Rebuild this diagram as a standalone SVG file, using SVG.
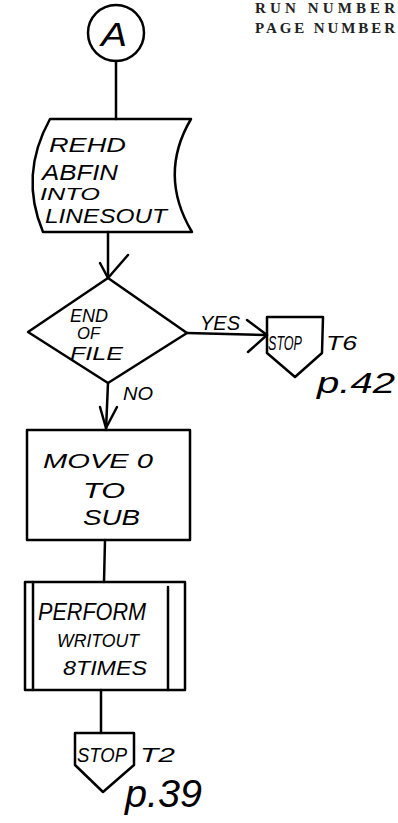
<svg xmlns="http://www.w3.org/2000/svg" width="398" height="823" viewBox="0 0 398 823">
<defs>
<style>
.s{fill:none;stroke:#000;stroke-width:2.5;stroke-linejoin:round;stroke-linecap:round}
.h{font-family:"Liberation Sans",Arial,sans-serif;fill:#000;font-style:italic}
.hd{font-family:"Liberation Serif","Times New Roman",serif;font-size:15px;font-weight:bold;fill:#222}
</style>
</defs>
<rect width="398" height="823" fill="#fff"/>
<text class="hd" x="255" y="13" textLength="140" lengthAdjust="spacing">RUN NUMBER</text>
<text class="hd" x="255" y="33" textLength="140" lengthAdjust="spacing">PAGE NUMBER</text>

<g id="connectors">
<line class="s" x1="116" y1="61" x2="116" y2="119"/>
<line class="s" x1="108" y1="232" x2="108" y2="278"/>
<path class="s" d="M100,263 L108,278 L128,255"/>
<line class="s" x1="187" y1="333" x2="266" y2="335"/>
<path class="s" d="M247,320 L267,335 L248,352"/>
<line class="s" x1="108" y1="383" x2="106" y2="430"/>
<path class="s" d="M100,407 L106,428 L117,407"/>
<line class="s" x1="105" y1="540" x2="104" y2="582"/>
<line class="s" x1="101" y1="690" x2="101" y2="733"/>
</g>

<g id="connA">
<circle class="s" cx="116" cy="33" r="28"/>
<text class="h" x="101" y="46" font-size="34" textLength="26" lengthAdjust="spacingAndGlyphs">A</text>
</g>

<g id="read">
<path class="s" d="M50,119 L191,119 Q158,175 192,232 L43,232 Q19,175 50,119 Z"/>
<text class="h" x="49" y="152" font-size="21" textLength="77" lengthAdjust="spacingAndGlyphs">REHD</text>
<text class="h" x="42" y="180" font-size="22" textLength="76" lengthAdjust="spacingAndGlyphs">ABFIN</text>
<text class="h" x="40" y="200" font-size="17" textLength="60" lengthAdjust="spacingAndGlyphs">INTO</text>
<text class="h" x="45" y="223" font-size="21" textLength="122" lengthAdjust="spacingAndGlyphs">LINESOUT</text>
</g>

<g id="eof">
<path class="s" d="M108,278 L187,333 L108,383 L28,332 Z"/>
<text class="h" x="70" y="322" font-size="19" textLength="38" lengthAdjust="spacingAndGlyphs">END</text>
<text class="h" x="77" y="339" font-size="16" textLength="23" lengthAdjust="spacingAndGlyphs">OF</text>
<text class="h" x="70" y="360" font-size="19" textLength="53" lengthAdjust="spacingAndGlyphs">FILE</text>
<text class="h" x="200" y="330" font-size="20" textLength="40" lengthAdjust="spacingAndGlyphs">YES</text>
<text class="h" x="123" y="400" font-size="19" textLength="30" lengthAdjust="spacingAndGlyphs">NO</text>
</g>

<g id="stopT6">
<path class="s" d="M267,317 L323,317 L322,353 L295,377 L267,353 Z"/>
<text class="h" x="268" y="350" font-size="20" textLength="34" lengthAdjust="spacingAndGlyphs">STOP</text>
<text class="h" x="326" y="350" font-size="20" textLength="31" lengthAdjust="spacingAndGlyphs">T6</text>
<text class="h" x="317" y="393" font-size="30" textLength="78" lengthAdjust="spacingAndGlyphs">p.42</text>
</g>

<g id="move">
<rect class="s" x="27" y="430" width="163" height="110"/>
<text class="h" x="43" y="468" font-size="21" textLength="110" lengthAdjust="spacingAndGlyphs">MOVE 0</text>
<text class="h" x="83" y="498" font-size="22" textLength="42" lengthAdjust="spacingAndGlyphs">TO</text>
<text class="h" x="83" y="525" font-size="22" textLength="57" lengthAdjust="spacingAndGlyphs">SUB</text>
</g>

<g id="perform">
<rect class="s" x="25" y="582" width="160" height="108"/>
<line class="s" x1="33" y1="582" x2="33" y2="690"/>
<line class="s" x1="168" y1="587" x2="168" y2="690"/>
<text class="h" x="38" y="620" font-size="24" textLength="108" lengthAdjust="spacingAndGlyphs">PERFORM</text>
<text class="h" x="57" y="647" font-size="18" textLength="82" lengthAdjust="spacingAndGlyphs">WRITOUT</text>
<text class="h" x="63" y="675" font-size="21" textLength="84" lengthAdjust="spacingAndGlyphs">8TIMES</text>
</g>

<g id="stopT2">
<path class="s" d="M75,733 L134,733 L134,765 L103,792 L75,765 Z"/>
<text class="h" x="77" y="762" font-size="20" textLength="50" lengthAdjust="spacingAndGlyphs">STOP</text>
<text class="h" x="140" y="762" font-size="20" textLength="35" lengthAdjust="spacingAndGlyphs">T2</text>
<text class="h" x="125" y="807" font-size="38" textLength="77" lengthAdjust="spacingAndGlyphs">p.39</text>
</g>
</svg>
